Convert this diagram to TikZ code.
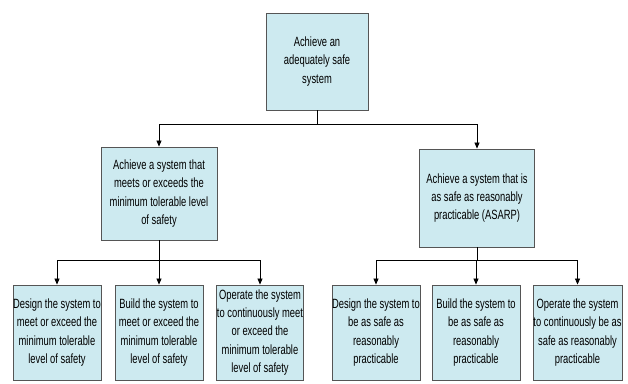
\documentclass[tikz,border=0pt]{standalone}
\usepackage{fontspec}
\setmainfont{Liberation Sans}[FakeStretch=0.70]
\usetikzlibrary{arrows.meta}
\definecolor{boxfill}{HTML}{CDEAF0}
\definecolor{boxline}{HTML}{555555}
\begin{document}
\begin{tikzpicture}[x=1pt,y=-1pt,
  goal/.style={draw=boxline, line width=0.9pt, fill=boxfill, inner sep=0pt,
    align=center, font=\fontsize{13.4}{18.2}\selectfont},
  link/.style={draw=black, line width=0.7pt},
  tip/.style={link, -{Triangle[length=6pt,width=5pt]}}]
\useasboundingbox (0,0) rectangle (628,383);

% top goal
\node[goal, minimum width=102pt, minimum height=97pt] (top) at (317,61.5)
  {Achieve an\\adequately safe\\system};

% second level
\node[goal, minimum width=116pt, minimum height=93pt] (tol) at (159,193.5)
  {Achieve a system that\\meets or exceeds the\\minimum tolerable level\\of safety};
\node[goal, minimum width=115pt, minimum height=98pt] (asarp) at (477,198)
  {Achieve a system that is\\as safe as reasonably\\practicable (ASARP)};

% third level
\node[goal, minimum width=88pt, minimum height=95pt] (t1) at (57,332.5)
  {Design the system to\\meet or exceed the\\minimum tolerable\\level of safety};
\node[goal, minimum width=88pt, minimum height=95pt] (t2) at (159,332.5)
  {Build the system to\\meet or exceed the\\minimum tolerable\\level of safety};
\node[goal, minimum width=87pt, minimum height=95pt] (t3) at (260,332.5)
  {Operate the system\\to continuously meet\\or exceed the\\minimum tolerable\\level of safety};
\node[goal, minimum width=88pt, minimum height=95pt] (a1) at (376,332.5)
  {Design the system to\\be as safe as\\reasonably\\practicable};
\node[goal, minimum width=88pt, minimum height=95pt] (a2) at (476,332.5)
  {Build the system to\\be as safe as\\reasonably\\practicable};
\node[goal, minimum width=89pt, minimum height=95pt] (a3) at (577.5,332.5)
  {Operate the system\\to continuously be as\\safe as reasonably\\practicable};

% bus junctions
\coordinate (j0) at (317,124);
\coordinate (j1) at (159,260);
\coordinate (j2) at (477,260);

% connectors
\draw[link] (top.south) -- (j0);
\draw[tip] (j0) -| (tol.north);
\draw[tip] (j0) -| (asarp.north);

\draw[link] (tol.south) -- (j1);
\draw[tip] (j1) -| (t1.north);
\draw[tip] (j1) -- (t2.north);
\draw[tip] (j1) -| (t3.north);

\draw[link] (asarp.south) -- (j2);
\draw[tip] (j2) -| (a1.north);
\draw[tip] (j2) -| (a2.north);
\draw[tip] (j2) -| (a3.north);
\end{tikzpicture}
\end{document}
